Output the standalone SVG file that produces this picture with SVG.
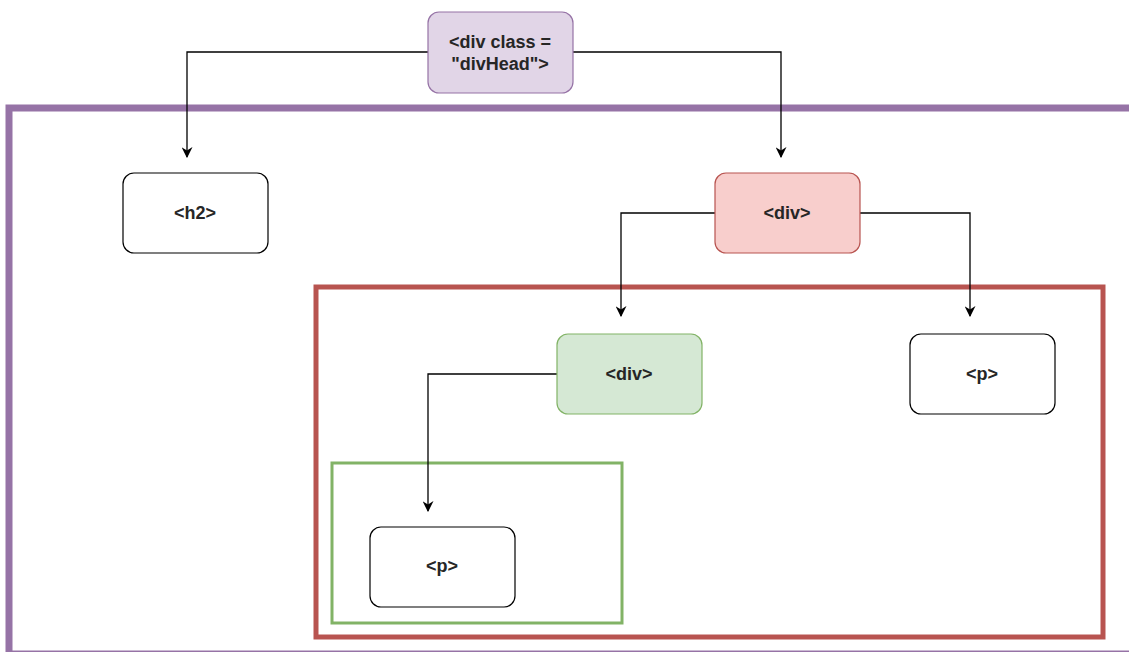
<svg xmlns="http://www.w3.org/2000/svg" width="1129" height="652" viewBox="0 0 1129 652">
  <style>
    .lbl { font-family: "Liberation Sans", Arial, sans-serif; font-size: 18px; font-weight: bold; fill: #262626; text-anchor: middle; dominant-baseline: central; }
    .node { stroke-width: 1.2; }
    .plain { fill: #ffffff; stroke: #000000; }
    .purple { fill: #e1d5e7; stroke: #9673a6; }
    .red { fill: #f8cecc; stroke: #b85450; }
    .green { fill: #d5e8d4; stroke: #82b366; }
    .edge { fill: none; stroke: #000000; stroke-width: 1.3; marker-end: url(#arrow); }
  </style>
  <defs>
    <marker id="arrow" viewBox="0 0 10 10" refX="9" refY="5" markerWidth="11" markerHeight="11" markerUnits="userSpaceOnUse" orient="auto">
      <path d="M0,0 L10,5 L0,10 L3,5 Z" fill="#000000"/>
    </marker>
  </defs>
  <rect width="1129" height="652" fill="#ffffff"/>

  <!-- container frames -->
  <g id="frames">
    <rect id="frame-divHead" x="9" y="108" width="1140" height="546" fill="none" stroke="#9673a6" stroke-width="7"/>
    <rect id="frame-div" x="316" y="287" width="787" height="350" fill="none" stroke="#b85450" stroke-width="5"/>
    <rect id="frame-inner-div" x="332" y="463" width="290" height="160" fill="none" stroke="#82b366" stroke-width="3"/>
  </g>

  <!-- connectors -->
  <g id="connectors">
    <path class="edge" d="M428,52 H187 V157"/>
    <path class="edge" d="M573,52 H781 V157"/>
    <path class="edge" d="M715,213 H621 V316"/>
    <path class="edge" d="M859,213 H970 V316"/>
    <path class="edge" d="M557,374 H428 V511"/>
  </g>

  <!-- nodes -->
  <g id="node-divHead">
    <rect class="node purple" x="428" y="12" width="145" height="81" rx="11"/>
    <text class="lbl" x="500" y="42">&lt;div class =</text>
    <text class="lbl" x="500" y="64">"divHead"&gt;</text>
  </g>
  <g id="node-h2">
    <rect class="node plain" x="123" y="173" width="145" height="80" rx="11"/>
    <text class="lbl" x="195" y="213">&lt;h2&gt;</text>
  </g>
  <g id="node-div-red">
    <rect class="node red" x="715" y="173" width="145" height="80" rx="11"/>
    <text class="lbl" x="787" y="213">&lt;div&gt;</text>
  </g>
  <g id="node-div-green">
    <rect class="node green" x="557" y="334" width="145" height="80" rx="11"/>
    <text class="lbl" x="629" y="374">&lt;div&gt;</text>
  </g>
  <g id="node-p-right">
    <rect class="node plain" x="910" y="334" width="145" height="80" rx="11"/>
    <text class="lbl" x="982" y="374">&lt;p&gt;</text>
  </g>
  <g id="node-p-inner">
    <rect class="node plain" x="370" y="527" width="145" height="80" rx="11"/>
    <text class="lbl" x="442" y="566">&lt;p&gt;</text>
  </g>
</svg>
